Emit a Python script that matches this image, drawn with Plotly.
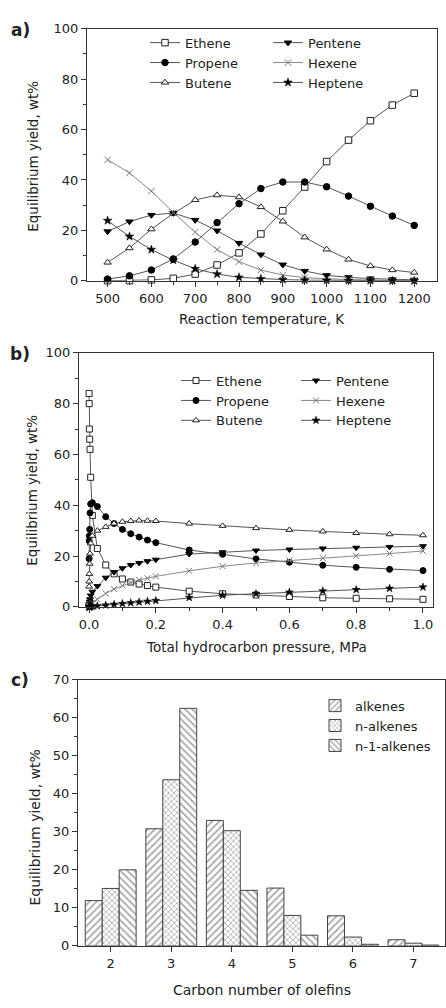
import plotly.graph_objects as go

# ---------------- data ----------------
# Panel a: equilibrium yield vs temperature
temp_K = [500, 550, 600, 650, 700, 750, 800, 850, 900, 950, 1000, 1050, 1100, 1150, 1200]
a_ethene = [0.05, 0.1, 0.4, 1.0, 2.7, 6.3, 11.1, 18.6, 27.8, 37.2, 47.3, 55.8, 63.5, 69.7, 74.4]
a_propene = [0.7, 2.0, 4.3, 8.7, 15.4, 23.1, 30.6, 36.6, 39.2, 39.2, 37.3, 33.6, 29.6, 25.7, 22.0]
a_butene = [7.3, 13.0, 20.5, 26.7, 32.1, 34.0, 33.2, 29.3, 23.6, 17.3, 12.5, 8.5, 5.9, 4.3, 3.3]
a_pentene = [19.6, 23.5, 26.1, 26.9, 24.1, 19.9, 15.0, 10.4, 6.4, 3.9, 2.2, 1.4, 0.9, 0.6, 0.4]
a_hexene = [48.0, 42.8, 35.6, 27.1, 19.3, 12.4, 7.6, 4.3, 2.3, 1.3, 0.8, 0.5, 0.3, 0.2, 0.1]
a_heptene = [23.9, 17.6, 12.4, 8.2, 4.8, 2.7, 1.4, 0.8, 0.5, 0.3, 0.2, 0.1, 0.1, 0.05, 0.0]

# Panel b: equilibrium yield vs total hydrocarbon pressure
pressure_MPa = [0.0002, 0.0005, 0.001, 0.002, 0.003, 0.005, 0.01, 0.025, 0.05, 0.075, 0.1,
                0.125, 0.15, 0.175, 0.2, 0.3, 0.4, 0.5, 0.6, 0.7, 0.8, 0.9, 1.0]
b_ethene = [84, 80, 70, 66, 62, 51, 36, 23, 16.5, 13, 11, 9.8, 9, 8.4, 7.8, 6.2, 5.2, 4.7, 4.1, 3.6, 3.4, 3.2, 3.0]
b_propene = [19, 26, 28, 30.5, 37, 40.5, 41, 39.5, 35.5, 32.8, 30.5, 28.8, 27.5, 26.3, 25.3, 22.4, 20.7, 18.9, 17.6, 16.4, 15.6, 14.8, 14.3]
b_butene = [8, 10, 13, 17, 21, 25, 28, 30, 31.5, 32.8, 33.5, 33.8, 34, 33.9, 33.8, 32.8, 31.9, 31, 30.3, 29.7, 29.1, 28.6, 28.2]
b_pentene = [0.3, 0.6, 1.2, 2, 3, 4.5, 6, 8.2, 11.5, 13.7, 15.2, 16.5, 17.3, 18, 18.6, 20.8, 21.5, 22.2, 22.6, 23, 23.3, 23.6, 23.9]
b_hexene = [0.05, 0.1, 0.2, 0.4, 0.6, 1, 1.6, 3, 5.3, 7, 8.4, 9.6, 10.6, 11.3, 12, 14.2, 16, 17.3, 18.3, 19.2, 20.1, 21, 22]
b_heptene = [0, 0, 0, 0.05, 0.1, 0.15, 0.25, 0.4, 0.7, 1.0, 1.3, 1.6, 1.9, 2.2, 2.5, 3.7, 4.6, 5.2, 5.8, 6.3, 6.8, 7.3, 7.8]

# Panel c: yield by carbon number
carbon_number = [2, 3, 4, 5, 6, 7]
c_alkenes = [11.9, 30.8, 33.0, 15.2, 7.9, 1.6]
c_n_alkenes = [15.1, 43.7, 30.3, 8.0, 2.3, 0.7]
c_n1_alkenes = [20.0, 62.5, 14.6, 2.8, 0.4, 0.2]

series_names = ["Ethene", "Propene", "Butene", "Pentene", "Hexene", "Heptene"]

# ---------------- styles ----------------
FONT = "DejaVu Sans"
LINE_C = "#555555"
W, H = 446, 1008

styles = {
    "Ethene": dict(symbol="square", color="white", lc="#222222", lw=1),
    "Propene": dict(symbol="circle", color="black", lc="black", lw=1),
    "Butene": dict(symbol="triangle-up", color="white", lc="#222222", lw=1),
    "Pentene": dict(symbol="triangle-down", color="black", lc="black", lw=1),
    "Hexene": dict(symbol="x-thin-open", color="#777777", lc="#777777", lw=1),
    "Heptene": dict(symbol="star", color="black", lc="black", lw=0.5),
}

fig = go.Figure()

def add_series(x, ys, xa, ya, legs, msize):
    for i, (name, y) in enumerate(zip(series_names, ys)):
        s = styles[name]
        fig.add_trace(go.Scatter(
            x=x, y=y, name=name, mode="lines+markers",
            xaxis=xa, yaxis=ya,
            legend=legs[0] if i < 3 else legs[1],
            line=dict(color="#888888" if name == "Hexene" else LINE_C, width=1),
            marker=dict(symbol=s["symbol"], size=msize, color=s["color"],
                        line=dict(color=s["lc"], width=s["lw"])),
            cliponaxis=False,
        ))

add_series(temp_K, [a_ethene, a_propene, a_butene, a_pentene, a_hexene, a_heptene],
           "x", "y", ["legend", "legend2"], 6.5)
add_series(pressure_MPa, [b_ethene, b_propene, b_butene, b_pentene, b_hexene, b_heptene],
           "x2", "y2", ["legend3", "legend4"], 6)

bar_specs = [
    ("alkenes", c_alkenes, "/", 5),
    ("n-alkenes", c_n_alkenes, "x", 4),
    ("n-1-alkenes", c_n1_alkenes, "\\", 5),
]
for name, vals, shp, sz in bar_specs:
    fig.add_trace(go.Bar(
        x=carbon_number, y=vals, name=name, xaxis="x3", yaxis="y3", legend="legend5",
        marker=dict(color="white",
                    line=dict(color="#444444", width=1),
                    pattern=dict(shape=shp, fgcolor="#555555", bgcolor="white",
                                 size=sz, solidity=0.35)),
    ))

# ---------------- axes ----------------
def px_dom_x(l, r):
    return [l / W, r / W]

def px_dom_y(top, bottom):
    return [1 - bottom / H, 1 - top / H]

tickfont = dict(family=FONT, size=13, color="#222222")

def axis_common(**kw):
    d = dict(showline=True, linecolor="#333333", linewidth=1.2, mirror=True,
             ticks="outside", ticklen=5, tickwidth=1, tickcolor="#333333",
             showgrid=False, zeroline=False, tickfont=tickfont,
             minor=dict(ticks="outside", ticklen=3, tickcolor="#333333", showgrid=False))
    d.update(kw)
    return d

layout_axes = dict(
    xaxis=axis_common(domain=px_dom_x(87, 437), range=[453, 1252], anchor="y",
                      tickvals=[500, 600, 700, 800, 900, 1000, 1100, 1200],
                      minor=dict(ticks="outside", ticklen=3, tickcolor="#333333",
                                 tickvals=[550, 650, 750, 850, 950, 1050, 1150])),
    yaxis=axis_common(domain=px_dom_y(22, 278), range=[0, 100], anchor="x",
                      tickvals=[0, 20, 40, 60, 80, 100],
                      minor=dict(ticks="outside", ticklen=3, tickcolor="#333333",
                                 tickvals=[10, 30, 50, 70, 90])),
    xaxis2=axis_common(domain=px_dom_x(79, 433), range=[-0.03, 1.03], anchor="y2",
                       tickvals=[0, 0.2, 0.4, 0.6, 0.8, 1.0],
                       ticktext=["0.0", "0.2", "0.4", "0.6", "0.8", "1.0"],
                       minor=dict(ticks="outside", ticklen=3, tickcolor="#333333",
                                  tickvals=[0.1, 0.3, 0.5, 0.7, 0.9])),
    yaxis2=axis_common(domain=px_dom_y(351, 609), range=[0, 100], anchor="x2",
                       tickvals=[0, 20, 40, 60, 80, 100],
                       minor=dict(ticks="outside", ticklen=3, tickcolor="#333333",
                                  tickvals=[10, 30, 50, 70, 90])),
    xaxis3=axis_common(domain=px_dom_x(78, 445), range=[1.46, 7.52], anchor="y3",
                       tickvals=carbon_number,
                       minor=dict(ticks="", tickvals=[])),
    yaxis3=axis_common(domain=px_dom_y(683, 953), range=[0, 70], anchor="x3",
                       tickvals=[0, 10, 20, 30, 40, 50, 60, 70],
                       minor=dict(ticks="outside", ticklen=3, tickcolor="#333333",
                                  tickvals=[5, 15, 25, 35, 45, 55, 65])),
)

legfont = dict(family=FONT, size=13.5, color="#222222")

def leg(xpx, ytop_px, size=13.5):
    return dict(x=xpx / W, y=1 - ytop_px / H, xanchor="left", yanchor="top",
                bgcolor="rgba(0,0,0,0)", borderwidth=0,
                font=dict(family=FONT, size=size, color="#222222"),
                orientation="v", tracegroupgap=0, itemwidth=30)

# ---------------- annotations ----------------
annots = []
def txt(x, y, s, size=13.5, angle=0):
    annots.append(dict(x=x / W, y=1 - y / H, xref="paper", yref="paper", text=s,
                       showarrow=False, textangle=angle, xanchor="center", yanchor="middle",
                       font=dict(family=FONT, size=size, color="#222222")))

txt(262, 317, "Reaction temperature, K")
txt(256, 650, "Total hydrocarbon pressure, MPa")
txt(262, 998, "Carbon number of olefins", size=14)
txt(33, 152, "Equilibrium yield, wt%", angle=-90)
txt(32, 491, "Equilibrium yield, wt%", angle=-90)
txt(35, 833, "Equilibrium yield, wt%", angle=-90, size=14)
for lab, y in [("<b>a)</b>", 23), ("<b>b)</b>", 352), ("<b>c)</b>", 683)]:
    txt(20, y, lab, size=17)

fig.update_layout(
    width=W, height=H, margin=dict(l=0, r=0, t=0, b=0),
    paper_bgcolor="white", plot_bgcolor="white",
    font=dict(family=FONT, size=13, color="#222222"),
    barmode="group", bargap=0.16, bargroupgap=0,
    showlegend=True,
    legend=leg(145, 21, 13),
    legend2=leg(268, 21, 13),
    legend3=leg(176, 364, 13),
    legend4=leg(296, 364, 13),
    legend5=leg(315, 694, 13),
    annotations=annots,
    **layout_axes,
)

fig.write_html("out.html")
